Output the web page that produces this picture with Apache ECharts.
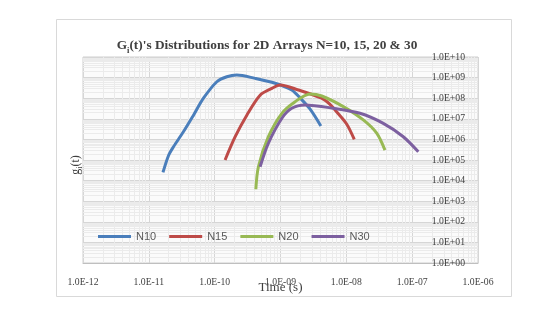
<!DOCTYPE html>
<html><head><meta charset="utf-8">
<script src="https://cdn.jsdelivr.net/npm/echarts@6/dist/echarts.min.js"></script>
<style>html,body{margin:0;padding:0;background:#fff}#c{width:560px;height:309px}</style>
</head><body><div id="c"></div>
<script>
const seriesNames = ['N10', 'N15', 'N20', 'N30'];
const seriesColors = ['#4a7ebb', '#be4b48', '#98b954', '#7d60a0'];
// [time (s), g_i(t)]
const n10 = [[1.64e-11,2.5e4],[2.0e-11,1.7e5],[2.37e-11,4.4e5],[3.37e-11,2.4e6],[4.77e-11,1.5e7],[6.76e-11,1.0e8],[1.08e-10,6.3e8],[1.53e-10,1.1e9],[2.17e-10,1.34e9],[4.1e-10,9.2e8],[8.3e-10,5.3e8],[1.48e-9,2.5e8],[2.0e-9,1.0e8],[2.8e-9,3.0e7],[4.1e-9,4.5e6]];
const n15 = [[1.44e-10,1.0e5],[2.05e-10,1.35e6],[3.08e-10,1.5e7],[4.9e-10,1.4e8],[7.4e-10,3.0e8],[9.9e-10,4.4e8],[1.87e-9,2.5e8],[4.2e-9,1.0e8],[5.7e-9,4.9e7],[7.1e-9,2.2e7],[1.01e-8,5.6e6],[1.32e-8,1.0e6]];
const n20 = [[4.22e-10,3.8e3],[4.62e-10,4.7e4],[6.55e-10,1.35e6],[1.05e-9,1.85e7],[1.67e-9,6.8e7],[2.81e-9,1.6e8],[4.24e-9,1.28e8],[9.0e-9,3.9e7],[1.81e-8,8.8e6],[2.89e-8,2.0e6],[3.86e-8,3.0e5]];
const n30 = [[4.9e-10,4.7e4],[6.55e-10,6.5e5],[1.05e-9,1.06e7],[1.48e-9,3.24e7],[2.36e-9,4.7e7],[6.35e-9,3.24e7],[1.61e-8,1.85e7],[3.64e-8,6.0e6],[7.33e-8,1.35e6],[1.24e-7,2.5e5]];
const seriesData = [n10, n15, n20, n30];
// axis ranges (decade exponents): x 1.0E-12 .. 1.0E-06, y 1.0E+00 .. 1.0E+10
const xExpMin = -12, xExpMax = -6;
const yExpMin = 0, yExpMax = 10;

function fmtExp(v) {
  const e = Math.round(v);
  const a = Math.abs(e);
  return '1.0E' + (e < 0 ? '-' : '+') + (a < 10 ? '0' + a : String(a));
}
const minorLines = [];
for (let e = xExpMin; e < xExpMax; e++)
  for (let m = 2; m <= 9; m++) minorLines.push({ xAxis: e + Math.log10(m) });
for (let e = yExpMin; e < yExpMax; e++)
  for (let m = 2; m <= 9; m++) minorLines.push({ yAxis: e + Math.log10(m) });

const serif = 'Liberation Serif';
const txt = '#404040';
const chart = echarts.init(document.getElementById('c'), null, { renderer: 'canvas' });
const series = seriesNames.map((n, i) => ({
  name: n, type: 'line', yAxisIndex: 0,
  data: seriesData[i].map(p => [Math.log10(p[0]), Math.log10(p[1])]),
  smooth: 0.3, showSymbol: false, symbol: 'none',
  lineStyle: { width: 3, color: seriesColors[i] }, itemStyle: { color: seriesColors[i] }, z: 3, animation: false
}));
series.push({
  name: '_grid', type: 'line', yAxisIndex: 0, data: [], silent: true, z: 1, animation: false,
  markLine: { silent: true, z: 1, symbol: ['none', 'none'], label: { show: false }, animation: false,
    lineStyle: { color: '#ebebeb', width: 1, type: 'solid' }, emphasis: { disabled: true }, data: minorLines }
});
const yBase = { type: 'value', min: yExpMin, max: yExpMax, interval: 1 };
chart.setOption({
  backgroundColor: '#fff',
  animation: false,
  title: {
    text: '{b|G}{s|i}{b|(t)\'s Distributions for 2D Arrays N=10, 15, 20 & 30}',
    left: 267, top: 34, textAlign: 'center', padding: 0,
    textStyle: { rich: {
      b: { fontFamily: serif, fontWeight: 'bold', fontSize: 13.3, color: txt, lineHeight: 18, verticalAlign: 'bottom' },
      s: { fontFamily: serif, fontWeight: 'bold', fontSize: 8.5, color: txt, lineHeight: 18, verticalAlign: 'bottom', padding: [0, 0, -3, 0] }
    } }
  },
  graphic: [{ type: 'rect', shape: { x: 56.5, y: 19.5, width: 455, height: 277 }, style: { fill: 'none', stroke: '#d9d9d9', lineWidth: 1 }, silent: true, z: -1 }],
  legend: {
    data: seriesNames, left: 98, top: 231, padding: 0, icon: 'rect', itemWidth: 33, itemHeight: 3, itemGap: 13,
    textStyle: { fontFamily: 'Liberation Sans', fontSize: 11, color: '#595959' }
  },
  grid: { left: 83, right: 82, top: 57, bottom: 46, show: true, backgroundColor: '#fbfbfb', borderColor: '#cfcfcf', borderWidth: 1, containLabel: false },
  xAxis: {
    type: 'value', min: xExpMin, max: xExpMax, interval: 1,
    name: 'Time (s)', nameLocation: 'middle', nameGap: 18, nameMoveOverlap: false,
    nameTextStyle: { fontFamily: serif, fontSize: 13, color: txt },
    axisLine: { show: true, onZero: false, lineStyle: { color: '#bfbfbf' } }, axisTick: { show: false },
    axisLabel: { formatter: fmtExp, margin: 14, fontFamily: serif, fontSize: 9.7, color: txt, showMinLabel: true, showMaxLabel: true },
    splitLine: { show: true, lineStyle: { color: '#d6d6d6', width: 1 } }
  },
  yAxis: [Object.assign({}, yBase, {
    position: 'right',
    axisLine: { show: false }, axisTick: { show: false }, axisLabel: { show: false },
    splitLine: { show: true, lineStyle: { color: '#d6d6d6', width: 1 } }
  }), Object.assign({}, yBase, {
    position: 'left',
    name: '{a|g}{s|i}{a|(t)}', nameLocation: 'middle', nameGap: 1, nameRotate: 90, nameMoveOverlap: false,
    nameTextStyle: { padding: [0, 10, 0, 0], rich: {
      a: { fontFamily: serif, fontSize: 12, color: txt, lineHeight: 15, verticalAlign: 'bottom' },
      s: { fontFamily: serif, fontSize: 8, color: txt, lineHeight: 15, verticalAlign: 'bottom', padding: [0, 0, -2, 0] }
    } },
    axisLine: { show: false }, axisTick: { show: false }, axisLabel: { show: false }, splitLine: { show: false }
  }), Object.assign({}, yBase, {
    position: 'right', offset: 0, z: 10,
    axisLine: { show: false }, axisTick: { show: false }, splitLine: { show: false },
    axisLabel: { inside: true, formatter: fmtExp, margin: 13, fontFamily: serif, fontSize: 9.7, color: txt, showMinLabel: true, showMaxLabel: true }
  })],
  series: series
});
</script></body></html>
